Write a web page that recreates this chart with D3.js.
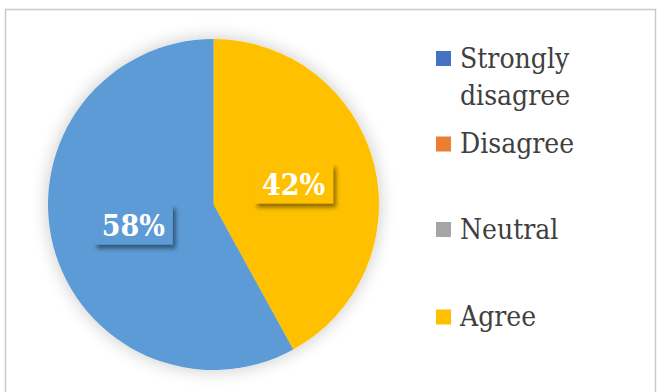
<!DOCTYPE html>
<html>
<head>
<meta charset="utf-8">
<script src="https://cdn.jsdelivr.net/npm/d3@7"></script>
<style>
  html, body { margin: 0; padding: 0; background: #ffffff; }
  svg { display: block; }
  .lab { font-family: "DejaVu Serif Condensed", "DejaVu Serif", serif; font-stretch: condensed; }
  .leg { font-family: "DejaVu Serif Condensed", "DejaVu Serif", serif; font-stretch: condensed; }
</style>
</head>
<body>
<svg id="chart" width="661" height="392"></svg>
<script>
// Survey responses (percent of respondents)
const categories = ["Strongly disagree", "Disagree", "Neutral", "Agree", "Strongly agree"];
const values = [0, 0, 0, 42, 58];
const colors = ["#4472C4", "#ED7D31", "#A5A5A5", "#FFC000", "#5B9BD5"];
// Rows the legend box has room for
const legendRows = [["Strongly", "disagree"], ["Disagree"], ["Neutral"], ["Agree"]];

const svg = d3.select("#chart");

const defs = svg.append("defs");
// soft glow around the pie
const glow = defs.append("filter").attr("id", "pieGlow")
  .attr("x", "-30%").attr("y", "-30%").attr("width", "160%").attr("height", "160%");
glow.append("feGaussianBlur").attr("in", "SourceAlpha").attr("stdDeviation", 9).attr("result", "b");
glow.append("feComponentTransfer").attr("in", "b").attr("result", "bb")
  .append("feFuncA").attr("type", "linear").attr("slope", 0.22);
const gm = glow.append("feMerge");
gm.append("feMergeNode").attr("in", "bb");
gm.append("feMergeNode").attr("in", "SourceGraphic");

// drop shadow for the value label boxes
const ds = defs.append("filter").attr("id", "boxShadow")
  .attr("x", "-30%").attr("y", "-30%").attr("width", "160%").attr("height", "160%");
ds.append("feGaussianBlur").attr("in", "SourceAlpha").attr("stdDeviation", 2.2).attr("result", "b");
ds.append("feOffset").attr("in", "b").attr("dx", 3).attr("dy", 4).attr("result", "o");
ds.append("feComponentTransfer").attr("in", "o").attr("result", "oo")
  .append("feFuncA").attr("type", "linear").attr("slope", 0.45);
const dm = ds.append("feMerge");
dm.append("feMergeNode").attr("in", "oo");
dm.append("feMergeNode").attr("in", "SourceGraphic");

// chart frame
svg.append("rect")
  .attr("x", 5.5).attr("y", 9.5).attr("width", 650).attr("height", 400)
  .attr("fill", "#ffffff").attr("stroke", "#C9C9C9").attr("stroke-width", 1.5);

const cx = 213.5, cy = 204.5, R = 165.5;
const color = d3.scaleOrdinal().domain(categories).range(colors);

const pie = d3.pie().sort(null).value(d => d.value);
const arcs = pie(categories.map((c, i) => ({ cat: c, value: values[i] })));
const arc = d3.arc().innerRadius(0).outerRadius(R);

const g = svg.append("g").attr("transform", `translate(${cx},${cy})`);
g.append("g").attr("filter", "url(#pieGlow)")
  .selectAll("path")
  .data(arcs.filter(d => d.data.value > 0))
  .join("path")
  .attr("d", arc)
  .attr("fill", d => color(d.data.cat));

// value labels in boxes at half radius
const total = d3.sum(values);
const labels = g.selectAll("g.lbl")
  .data(arcs.filter(d => d.data.value > 0))
  .join("g")
  .attr("class", "lbl")
  .attr("transform", d => `translate(${arc.centroid(d)})`);
labels.append("rect")
  .attr("x", -39.5).attr("y", -20.5).attr("width", 79).attr("height", 40)
  .attr("fill", d => color(d.data.cat))
  .attr("filter", "url(#boxShadow)");
labels.append("text")
  .attr("class", "lab")
  .attr("text-anchor", "middle")
  .attr("y", 11)
  .attr("fill", "#ffffff")
  .attr("font-weight", "bold")
  .attr("font-size", 30)
  .text(d => Math.round(d.data.value / total * 100) + "%");

// legend
const legend = svg.append("g").attr("transform", "translate(436,0)");
const rowY = [58.5, 144, 229.5, 317];
legendRows.forEach((lines, i) => {
  const row = legend.append("g").attr("transform", `translate(0,${rowY[i]})`);
  row.append("rect")
    .attr("x", 0).attr("y", -7.5).attr("width", 15).attr("height", 15)
    .attr("fill", color(categories[i]));
  const t = row.append("text")
    .attr("class", "leg")
    .attr("x", 24).attr("y", 9)
    .attr("fill", "#404040")
    .attr("font-size", 28);
  lines.forEach((ln, j) => {
    t.append("tspan").attr("x", 24).attr("dy", j === 0 ? 0 : 37).text(ln);
  });
});
</script>
</body>
</html>
